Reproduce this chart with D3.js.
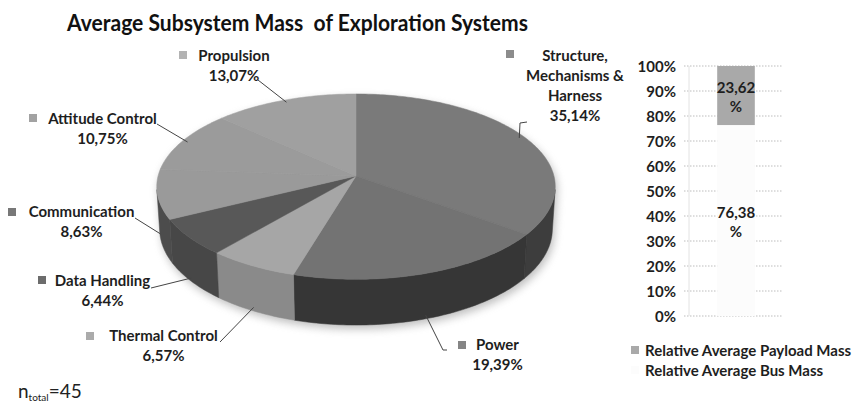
<!DOCTYPE html>
<html>
<head>
<meta charset="utf-8">
<script src="https://cdn.jsdelivr.net/npm/d3@7"></script>
<style>
  html, body { margin: 0; padding: 0; background: #fff; }
  svg { display: block; font-family: Lato, "Open Sans", sans-serif; }
</style>
</head>
<body>
<svg id="chart" width="855" height="407"></svg>
<script>
// ---------------- DATA ----------------
const title = "Average Subsystem Mass\u00a0 of Exploration Systems";
const categories = ["Structure, Mechanisms & Harness", "Power", "Thermal Control",
                    "Data Handling", "Communication", "Attitude Control", "Propulsion"];
const shares = [35.14, 19.39, 6.57, 6.44, 8.63, 10.75, 13.07];

const barSeries = ["Relative Average Payload Mass", "Relative Average Bus Mass"];
const barValues = [23.62, 76.38];           // stacked: payload on top of bus
const yTickValues = [0, 10, 20, 30, 40, 50, 60, 70, 80, 90, 100];
const nTotal = 45;

// ---------------- STYLE / LAYOUT ----------------
const topColors  = ["#7a7a7a", "#737373", "#a6a6a6", "#585858", "#9a9a9a", "#9b9b9b", "#a0a0a0"];
const sideColors = ["#3d3d3d", "#363636", "#8a8a8a", "#474747", "#4c4c4c", "#5a5a5a", "#606060"];
const markerColors = ["#8c8c8c", "#858585", "#ababab", "#6c6c6c", "#787878", "#a2a2a2", "#b3b3b3"];

// label block layout: centre x of text, first baseline, marker centre, leader start path, wrap width
const labelLayout = [
  { cx: 575,   y: 61,  mx: 510, my: 54,  wrap: 120, lead: [[527,122],[520,123]] },
  { cx: 497.5, y: 350, mx: 462, my: 345, wrap: 999, lead: [[447,350],[443,350]] },
  { cx: 163.5, y: 341, mx: 90,  my: 336, wrap: 999, lead: [[220,342]] },
  { cx: 102.5, y: 286, mx: 42,  my: 280, wrap: 999, lead: [[151,288]] },
  { cx: 81.5,  y: 217, mx: 12,  my: 212, wrap: 999, lead: [[135,218]] },
  { cx: 102.5, y: 124, mx: 33,  my: 118, wrap: 999, lead: [[157,124]] },
  { cx: 234,   y: 61,  mx: 183, my: 55,  wrap: 999, lead: [[258,80]] }
];
const lineH = 20;
const labelFont = 15;

const svg = d3.select("#chart");
const fmt = v => d3.format(".2f")(v).replace(".", ",");

// ---------------- TITLE ----------------
svg.append("text")
  .attr("x", 67).attr("y", 31)
  .attr("font-size", 22).attr("font-weight", 700).attr("fill", "#111")
  .attr("textLength", 461).attr("lengthAdjust", "spacingAndGlyphs")
  .text(title);

// ---------------- 3D PIE (perspective projection) ----------------
const P = { cx: 356, cy: 176, F: 1530, D: 7.73, sa: 0.462, ca: 0.887, h: 0.243 };
function proj(theta, y, r = 1) {
  const x = r * Math.sin(theta), z = -r * Math.cos(theta);
  const depth = P.D - (y * P.sa + z * P.ca);
  return [P.cx + x * P.F / depth, P.cy - (y * P.ca - z * P.sa) * P.F / depth];
}
function arcPts(a0, a1, y, r = 1) {
  const n = Math.max(2, Math.ceil((a1 - a0) / (Math.PI / 180)));
  return d3.range(n + 1).map(i => proj(a0 + (a1 - a0) * i / n, y, r));
}
const visA0 = Math.acos(-1 / (P.D * P.ca));
const visA1 = 2 * Math.PI - visA0;

const pie = d3.pie().sort(null).value(d => d)(shares);
const line = d3.line();

const defs = svg.append("defs");
defs.append("filter").attr("id", "blur").attr("x", "-20%").attr("y", "-20%")
  .attr("width", "140%").attr("height", "140%")
  .append("feGaussianBlur").attr("stdDeviation", 4);

const gPie = svg.append("g");

// soft shadow of whole pie silhouette
{
  const front = arcPts(visA0, visA1, -P.h);
  const sil = arcPts(visA1 - 2 * Math.PI, visA0, 0).concat(front);
  gPie.append("path")
    .attr("d", line(sil) + "Z")
    .attr("transform", "translate(2,4)")
    .attr("fill", "#8a8a8a").attr("opacity", 0.55)
    .attr("filter", "url(#blur)");
}

// side walls
pie.forEach((s, i) => {
  const a0 = Math.max(s.startAngle, visA0), a1 = Math.min(s.endAngle, visA1);
  if (a1 <= a0) return;
  const pts = arcPts(a0, a1, 0).concat(arcPts(a0, a1, -P.h).reverse());
  gPie.append("path").attr("d", line(pts) + "Z")
    .attr("fill", sideColors[i]).attr("stroke", sideColors[i]).attr("stroke-width", 0.5);
});

// top faces
pie.forEach((s, i) => {
  const pts = [proj(0, 0, 0)].concat(arcPts(s.startAngle, s.endAngle, 0));
  gPie.append("path").attr("d", line(pts) + "Z")
    .attr("fill", topColors[i]).attr("stroke", topColors[i]).attr("stroke-width", 0.5);
});

// ---------------- PIE LABELS ----------------
const gLab = svg.append("g").attr("font-size", labelFont).attr("font-weight", 700).attr("fill", "#1e1e1e");
const measurer = svg.append("text").attr("font-size", labelFont).attr("font-weight", 700).attr("visibility", "hidden");
function textW(t) { measurer.text(t); return measurer.node().getComputedTextLength(); }
function wrap(name, maxW) {
  const words = name.split(" "); const lines = []; let cur = "";
  words.forEach(w => {
    const t = cur ? cur + " " + w : w;
    if (cur && textW(t) > maxW) { lines.push(cur); cur = w; } else cur = t;
  });
  if (cur) lines.push(cur);
  return lines;
}

pie.forEach((s, i) => {
  const L = labelLayout[i];
  const lines = wrap(categories[i], L.wrap).concat([fmt(shares[i]) + "%"]);
  lines.forEach((t, k) => {
    gLab.append("text").attr("x", L.cx).attr("y", L.y + k * lineH)
      .attr("text-anchor", "middle").text(t);
  });
  gLab.append("rect").attr("x", L.mx - 4).attr("y", L.my - 4).attr("width", 8).attr("height", 8)
    .attr("fill", markerColors[i]);
  // leader line to slice
  const mid = (s.startAngle + s.endAngle) / 2;
  const anchor = (mid > visA0 && mid < visA1) ? proj(mid, -P.h * 0.92) : proj(mid, 0, 0.97);
  gLab.append("path").attr("d", line(L.lead.concat([anchor])))
    .attr("fill", "none").attr("stroke", "#444").attr("stroke-width", 1);
});

// ---------------- STACKED 100% BAR ----------------
const y = d3.scaleLinear().domain([0, 100]).range([316, 66]);
const x = d3.scaleBand().domain(["all"]).range([689, 783]).paddingInner(0.6).paddingOuter(0.3);

const gBar = svg.append("g");
// gridlines
gBar.selectAll("line.grid").data(yTickValues).join("line")
  .attr("x1", 684).attr("x2", 783)
  .attr("y1", d => y(d)).attr("y2", d => y(d))
  .attr("stroke", "#bdbdbd").attr("stroke-width", 1).attr("stroke-dasharray", "1.5,1.5");
// axis line
gBar.append("line").attr("x1", 689).attr("x2", 689).attr("y1", y(100)).attr("y2", y(0))
  .attr("stroke", "#e2e2e2");

// stack: bus at bottom, payload on top
const stackOrder = [1, 0];
let acc = 0;
const barFill = ["#a9a9a9", "#fcfcfc"];
stackOrder.forEach(idx => {
  const v0 = acc, v1 = acc + barValues[idx]; acc = v1;
  gBar.append("rect")
    .attr("x", x("all")).attr("width", x.bandwidth())
    .attr("y", y(v1)).attr("height", y(v0) - y(v1))
    .attr("fill", barFill[idx]);
  const cy = (y(v0) + y(v1)) / 2;
  const t = gBar.append("text").attr("text-anchor", "middle")
    .attr("font-size", 15).attr("font-weight", 700).attr("fill", "#1e1e1e");
  t.append("tspan").attr("x", x("all") + x.bandwidth() / 2).attr("y", cy - 3).text(fmt(barValues[idx]));
  t.append("tspan").attr("x", x("all") + x.bandwidth() / 2).attr("y", cy + 16).text("%");
});

// y axis tick labels
const yAxis = d3.axisLeft(y).tickValues(yTickValues).tickFormat(d => d + "%").tickSize(0).tickPadding(0);
const ga = svg.append("g").attr("transform", "translate(676,0)").call(yAxis);
ga.select(".domain").remove();
ga.selectAll("text").attr("font-family", "Lato, sans-serif").attr("font-size", 15)
  .attr("font-weight", 700).attr("fill", "#1e1e1e").attr("dy", "0.35em");

// legend
const gLeg = svg.append("g").attr("font-size", 15).attr("font-weight", 700).attr("fill", "#1e1e1e");
barSeries.forEach((name, i) => {
  const ly = 356 + i * 20;
  gLeg.append("rect").attr("x", 631).attr("y", ly - 10).attr("width", 8).attr("height", 8)
    .attr("fill", barFill[i]);
  gLeg.append("text").attr("x", 645).attr("y", ly).text(name);
});

// n_total
const nt = svg.append("text").attr("x", 18).attr("y", 398).attr("font-size", 19).attr("fill", "#222");
nt.append("tspan").text("n");
nt.append("tspan").attr("font-size", 10).attr("dy", 3).text("total");
nt.append("tspan").attr("dy", -3).text("=" + nTotal);
measurer.remove();
</script>
</body>
</html>
